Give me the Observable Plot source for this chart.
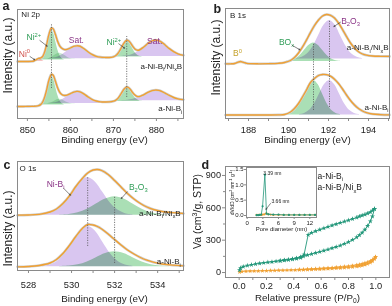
<!DOCTYPE html>
<html><head><meta charset="utf-8">
<script src="https://cdn.jsdelivr.net/npm/d3@7"></script>
<script src="https://cdn.jsdelivr.net/npm/@observablehq/plot@0.6"></script>
<style>
body{margin:0;background:#fff;}
#fig{position:relative;width:392px;height:306px;overflow:hidden;background:#fff;isolation:isolate;}
.p{position:absolute;}
</style></head><body><div id="fig"></div>
<script>
// ---------------- Panel a : Ni 2p ----------------
const aX = [847.7,849,850,851,851.5,852,852.6,853,853.5,854,854.5,855,855.6,856,856.5,857,857.5,858,858.5,859,859.5,860,860.5,861,861.5,862,862.5,863,864,865,866,867,868,869,870,870.5,871,871.5,872,872.5,873.1,873.5,874,874.5,875,875.5,876,877,878,879,879.8,880.5,881,882,883,884,885,886.3];
const aUpper = [57.0,57.0,57.0,57.1,57.5,58.7,60.1,60.4,61.7,66.3,74.4,83.9,90.5,89.6,84.2,77.5,72.7,70.2,69.1,68.9,69.6,70.5,71.6,72.3,72.7,72.5,71.7,70.3,67.0,64.1,62.2,61.35,61.05,61.0,61.7,62.7,64.8,68.0,72.0,75.7,78.3,77.8,75.4,72.2,69.6,68.4,68.5,71.3,75.0,77.7,78.5,77.9,76.9,73.6,69.9,66.8,64.6,63.2];
const aLower = [12.0,12.0,12.1,12.2,12.2,12.3,12.8,13.6,16.0,21.1,29.0,38.2,44.2,43.2,37.5,31.0,26.3,24.0,23.1,23.2,23.9,24.9,25.9,26.7,27.1,26.9,26.1,24.9,21.9,19.2,17.5,16.7,16.5,16.6,17.3,18.2,19.9,22.8,26.3,29.5,31.6,31.0,28.8,25.8,23.4,22.1,21.9,23.7,26.1,27.9,28.45,28.1,27.5,25.4,23.05,21.0,19.65,18.8];
const aU_Ni0 = [[851.4,57.6],[851.7,58.1],[852.0,58.8],[852.3,59.5],[852.6,59.8],[852.9,59.5],[853.2,58.8],[853.5,58.1],[853.8,57.6]];
const aU_Ni2a = [[852.6,58.8],[853.1,59.8],[853.6,62.6],[854.1,68.2],[854.6,76.7],[855.1,85.0],[855.6,88.5],[856.1,85.0],[856.6,76.7],[857.1,68.2],[857.6,62.6],[858.1,59.8],[858.6,58.8]];
const aU_Sh = [[853.9,59.4],[854.5,59.6],[855.1,60.1],[855.7,61.3],[856.3,62.9],[856.9,64.6],[857.5,65.3],[858.1,64.6],[858.7,62.9],[859.3,61.3],[859.9,60.1],[860.5,59.6],[861.1,59.4]];
const aU_Sat1 = [[854.9,59.9],[856.0,60.4],[857.1,61.5],[858.2,63.9],[859.3,67.4],[860.4,70.8],[861.5,72.3],[862.6,70.8],[863.7,67.4],[864.8,63.9],[865.9,61.5],[867.0,60.4],[868.1,59.9]];
const aU_Ni2b = [[869.5,61.7],[870.1,62.2],[870.7,63.7],[871.3,66.7],[871.9,71.2],[872.5,75.6],[873.1,77.5],[873.7,75.6],[874.3,71.2],[874.9,66.7],[875.5,63.7],[876.1,62.2],[876.7,61.7]];
const aU_Sat2 = [[872.0,62.2],[873.3,62.7],[874.6,64.2],[875.9,67.4],[877.2,72.0],[878.5,76.6],[879.8,78.5],[881.1,76.6],[882.4,72.0],[883.7,67.4],[885.0,64.2],[886.3,62.7]];
const aL_Ni2a = [[852.6,13.8],[853.1,14.8],[853.6,17.4],[854.1,22.9],[854.6,31.1],[855.1,39.1],[855.6,42.5],[856.1,39.1],[856.6,31.1],[857.1,22.9],[857.6,17.4],[858.1,14.8],[858.6,13.8]];
const aL_Sh = [[853.9,14.4],[854.5,14.5],[855.1,15.0],[855.7,15.9],[856.3,17.3],[856.9,18.7],[857.5,19.3],[858.1,18.7],[858.7,17.3],[859.3,15.9],[859.9,15.0],[860.5,14.5],[861.1,14.4]];
const aL_Sat1 = [[854.9,15.1],[856.0,15.5],[857.1,16.6],[858.2,18.9],[859.3,22.3],[860.4,25.6],[861.5,27.0],[862.6,25.6],[863.7,22.3],[864.8,18.9],[865.9,16.6],[867.0,15.5],[868.1,15.1]];
const aL_Ni2b = [[869.5,17.2],[870.1,17.6],[870.7,18.9],[871.3,21.6],[871.9,25.5],[872.5,29.4],[873.1,31.0],[873.7,29.4],[874.3,25.5],[874.9,21.6],[875.5,18.9],[876.1,17.6],[876.7,17.2]];
const aL_Sat2 = [[872.0,17.9],[873.3,18.3],[874.6,19.2],[875.9,21.2],[877.2,24.2],[878.5,27.1],[879.8,28.3],[881.1,27.1],[882.4,24.2],[883.7,21.2],[885.0,19.2],[886.3,18.3]];
const aTicks = [850,860,870,880];
const aMinor = [855,865,875,885];

// ---------------- Panel b : B 1s ----------------
const bX = [186.85,187.1,187.3,187.45,187.6,187.75,187.9,188.1,188.5,189.0,189.5,189.8,190.1,190.3,190.5,190.7,190.9,191.1,191.3,191.5,191.7,191.9,192.1,192.3,192.5,192.7,192.9,193.1,193.3,193.5,193.7,193.9,194.2,194.6,195.05];
const bUpper = [54.7,54.7,55.0,56.2,57.0,56.2,55.2,54.8,54.7,54.8,55.2,56,58,61,65.5,71.5,78.5,86,93,98.5,102.5,104,103.2,100.5,95.5,89,82,75.5,70.5,66.8,64.5,63.3,62.5,62.2,62.1];
const bLower = [3.5,3.5,3.5,3.5,3.5,3.5,3.5,3.5,3.5,3.5,3.6,4.0,6.5,10,15,21.5,28.5,36,40,43,44,43.8,42.3,39.3,35,29.5,23.5,18,13.5,10,7.5,5.8,4.5,3.9,3.6];
const bU_B0 = [[187.25,54.9],[187.4,55.9],[187.55,57.0],[187.7,55.9],[187.85,54.9]];
const bU_BOx = [[189.9,57.2],[190.13,57.8],[190.35,59.5],[190.58,63.0],[190.8,68.2],[191.03,73.3],[191.25,75.5],[191.48,73.3],[191.7,68.2],[191.93,63.0],[192.15,59.5],[192.38,57.8],[192.6,57.2]];
const bU_B2O3 = [[190.4,59.9],[190.68,61.2],[190.95,64.7],[191.23,72.0],[191.5,82.8],[191.78,93.5],[192.05,98.0],[192.33,93.5],[192.6,82.8],[192.88,72.0],[193.15,64.7],[193.43,61.2],[193.7,59.9]];
const bL_BOx = [[189.9,3.9],[190.13,5.0],[190.35,8.2],[190.58,14.7],[190.8,24.4],[191.03,33.9],[191.25,38.0],[191.48,33.9],[191.7,24.4],[191.93,14.7],[192.15,8.2],[192.38,5.0],[192.6,3.9]];
const bL_B2O3 = [[190.55,3.9],[190.8,5.0],[191.05,8.2],[191.3,14.7],[191.55,24.4],[191.8,33.9],[192.05,38.0],[192.3,33.9],[192.55,24.4],[192.8,14.7],[193.05,8.2],[193.3,5.0],[193.55,3.9]];
const bTicks = [188,190,192,194];
const bMinor = [187,189,191,193,195];

// ---------------- Panel c : O 1s ----------------
const cX = [527.49,528.0,528.5,529.0,529.3,529.6,529.9,530.2,530.5,530.75,531.0,531.2,531.4,531.7,532.0,532.3,532.6,532.9,533.2,533.5,533.8,534.2,534.7,535.2];
const cUpper = [55.3,55.5,56.2,58.5,61.5,67,74.5,84,92,97.5,100.5,101,100,96,90,83.5,77,71.5,67,63.5,61,59,57.8,57];
const cLower = [3.7,4.0,5.0,7.5,11,17,25,34,42,46,45.5,44,41.5,36.5,31,25.5,20.5,16.5,13,10.3,8.3,6.5,5.3,4.7];
const cU_NiB = [[528.65,55.7],[529.0,56.8],[529.35,60.4],[529.7,67.5],[530.05,78.2],[530.4,88.6],[530.75,93.0],[531.1,88.6],[531.45,78.2],[531.8,67.5],[532.15,60.4],[532.5,56.8],[532.85,55.7]];
const cU_B2O3 = [[529.45,55.5],[529.88,56.1],[530.3,57.8],[530.73,61.3],[531.15,66.5],[531.58,71.5],[532.0,73.7],[532.43,71.5],[532.85,66.5],[533.28,61.3],[533.7,57.8],[534.13,56.1],[534.55,55.5]];
const cL_NiB = [[528.65,4.2],[529.0,5.5],[529.35,9.2],[529.7,16.9],[530.05,28.3],[530.4,39.5],[530.75,44.3],[531.1,39.5],[531.45,28.3],[531.8,16.9],[532.15,9.2],[532.5,5.5],[532.85,4.2]];
const cL_B2O3 = [[529.45,3.9],[529.88,4.4],[530.3,5.7],[530.73,8.6],[531.15,12.8],[531.58,16.9],[532.0,18.7],[532.43,16.9],[532.85,12.8],[533.28,8.6],[533.7,5.7],[534.13,4.4],[534.55,3.9]];
const cTicks = [528,530,532,534];
const cMinor = [529,531,533,535];

// ---------------- Panel d : N2 isotherms ----------------
const gAdsP = [0.003,0.01,0.03,0.06,0.09,0.12,0.15,0.18,0.21,0.24,0.27,0.30,0.33,0.36,0.39,0.42,0.45,0.47,0.50,0.53,0.56,0.59,0.62,0.65,0.68,0.71,0.74,0.77,0.80,0.83,0.86,0.88,0.90,0.92,0.94,0.96,0.975,0.99];
const gAdsV = [22,42,55,65,72,79,85,90,95,99,104,108,113,118,123,129,137,150,162,172,182,193,203,214,226,238,251,266,283,303,327,347,370,398,432,475,520,590];
const gDesP = [0.99,0.975,0.96,0.94,0.92,0.90,0.88,0.86,0.83,0.80,0.77,0.74,0.71,0.68,0.65,0.62,0.59,0.56,0.53,0.505,0.475,0.45,0.42,0.39,0.36,0.33,0.30];
const gDesV = [590,575,560,548,538,530,520,510,497,485,473,461,449,437,424,411,398,384,368,350,167,145,134,126,120,115,110];
const oAdsP = [0.003,0.02,0.05,0.08,0.11,0.14,0.17,0.20,0.23,0.26,0.29,0.32,0.35,0.38,0.41,0.44,0.47,0.50,0.53,0.56,0.59,0.62,0.65,0.68,0.71,0.74,0.77,0.80,0.83,0.86,0.88,0.90,0.92,0.94,0.96,0.975,0.99,0.998];
const oAdsV = [5,10,12,13,14,15,16,17,18,19,20,21,22,23,24,25,26,27,28,30,31,33,35,37,39,41,44,47,51,56,60,65,72,80,92,105,125,145];
const oDesP = [0.998,0.99,0.975,0.96,0.94,0.92,0.90,0.88,0.86,0.83,0.80,0.77,0.74,0.71,0.68,0.65,0.62,0.59,0.56,0.53,0.50,0.47,0.44];
const oDesV = [145,132,118,106,96,88,81,75,70,64,59,55,51,48,45,42,40,37,35,33,31,29,27];
const dTicks = [0,0.2,0.4,0.6,0.8,1.0];
const dMinor = [0.1,0.3,0.5,0.7,0.9];
const dYTicks = [0,300,600,900];
const dYMinor = [150,450,750];
// inset: pore size distribution
const gPoreX = [1.8,2.1,2.4,2.7,2.95,3.39,3.7,4.1,5.0,6.0,7.0,8.0,9.0,10.0,11.0,12.0,13.0];
const gPoreY = [0.01,0.01,0.02,0.03,0.3,1.33,0.06,0.04,0.03,0.03,0.02,0.02,0.02,0.02,0.02,0.02,0.02];
const oPoreX = [1.8,2.1,2.4,2.7,3.0,3.3,3.66,4.0,4.5,5.0,6.0,7.0,8.0,9.0,10.0,11.0,12.0,13.0];
const oPoreY = [0.02,0.02,0.02,0.02,0.03,0.04,0.07,0.04,0.03,0.02,0.02,0.02,0.02,0.02,0.02,0.02,0.02,0.02];
const insetXTicks = [0,3,6,9,12];
const insetYTicks = [0,0.5,1.0,1.5];

// ---------------- styling ----------------
const FONT = '"Liberation Sans", Arial, Helvetica, sans-serif';
const ORANGE = "#f0a032";
const GFILL = "#aadfb5", PFILL = "#d9c6f0", RFILL = "#f4b0b0", YFILL = "#f3e3a0";
const GTXT = "#2f9d57", PTXT = "#8a3486", RTXT = "#d0504a", YTXT = "#c4a12a";
const TEAL = "#23977a";
const FRAME = "#8a8a8a";

const pairs = (xs, ys) => xs.map((x, i) => ({x, y: ys[i]}));
const peak = (pts, base, fill, op = 1) =>
  Plot.areaY(pts, {x: d => d[0], y1: base, y2: d => d[1], fill, fillOpacity: op, mixBlendMode: "multiply", curve: "catmull-rom"});
const env = (xs, ys) => [
  Plot.lineY(pairs(xs, ys), {x: "x", y: "y", stroke: "#cfcfcf", strokeWidth: 2.6, curve: "catmull-rom"}),
  Plot.lineY(pairs(xs, ys), {x: "x", y: "y", stroke: ORANGE, strokeWidth: 1.35, curve: "catmull-rom"})
];
const dotted = (x, y1, y2) => Plot.ruleX([{x, y1, y2}], {x: "x", y1: "y1", y2: "y2", stroke: "#555", strokeWidth: 0.8, strokeDasharray: "1.2,1.3"});
const lab = (x, y, t, o = {}) => Plot.text([{x, y, t}], {x: "x", y: "y", text: "t", fontSize: 8.5, ...o});
const arr = (x1, y1, x2, y2) => Plot.arrow([{x1, y1, x2, y2}], {x1: "x1", y1: "y1", x2: "x2", y2: "y2", stroke: "#333", strokeWidth: 0.6, headLength: 3});
const ftext = (t, o) => Plot.text([t], {text: d => d, lineAnchor: "middle", ...o});
// rotated axis title placed at a position in data units (no offsets)
const ytitle = (t, x, y, fs = 12) => Plot.text([{x, y, t}], {x: "x", y: "y", text: "t", rotate: -90, textAnchor: "middle", lineAnchor: "middle", fontSize: fs});
const letter = (t, dx, dy) => ftext(t, {frameAnchor: "top-left", textAnchor: "start", dx, dy, fontSize: 12.5, fontWeight: "bold"});
const xAxes = (maj, min, pad, fmt) => [
  Plot.axisX(min, {tickSize: 3, tickFormat: () => "", label: null, stroke: FRAME}),
  Plot.axisX(maj, {tickSize: 3, tickPadding: pad, fontSize: 9.3, label: null, stroke: FRAME, fill: "#222", tickFormat: fmt})
];
// explicit left axis (ticks + labels) for panel d and inset
const yAxisLeft = (maj, min, x0, tick, labelFmt, fs, pad) => [
  Plot.ruleY(min, {y: d => d, x1: x0 - tick * 0.66, x2: x0, stroke: FRAME}),
  Plot.ruleY(maj, {y: d => d, x1: x0 - tick, x2: x0, stroke: FRAME}),
  Plot.text(maj, {y: d => d, x: x0, text: labelFmt, textAnchor: "end", dx: -pad, fontSize: fs, fill: "#222"})
];

function richify(root) {
  root.querySelectorAll("text").forEach(t => {
    const s = t.textContent;
    if (!/[_^]\{/.test(s)) return;
    const fs = parseFloat(getComputedStyle(t).fontSize) || 10;
    while (t.firstChild) t.removeChild(t.firstChild);
    const re = /([_^])\{([^}]*)\}|([^_^]+)/g;
    let m, shift = 0;
    while ((m = re.exec(s))) {
      const ts = document.createElementNS("http://www.w3.org/2000/svg", "tspan");
      if (m[3] !== undefined) {
        ts.textContent = m[3];
        if (shift) { ts.setAttribute("dy", (-shift).toFixed(2)); shift = 0; }
      } else {
        ts.textContent = m[2];
        ts.setAttribute("font-size", (fs * 0.68).toFixed(2));
        const d = m[1] === "_" ? fs * 0.28 : -fs * 0.4;
        ts.setAttribute("dy", (d - shift).toFixed(2));
        shift = d;
      }
      t.appendChild(ts);
    }
  });
}

const fig = document.getElementById("fig");
function place(svg, left, top) {
  const d = document.createElement("div");
  d.className = "p"; d.style.left = left + "px"; d.style.top = top + "px";
  d.appendChild(svg); fig.appendChild(d); richify(svg);
}
const base = (o) => ({width: 196, height: 153, style: {fontFamily: FONT, fontSize: "9px", color: "#222", background: "transparent", overflow: "visible"}, ...o});

// ---- a ----
place(Plot.plot(base({
  marginLeft: 17, marginRight: 13, marginTop: 9, marginBottom: 35,
  x: {domain: [847.7, 886.3]}, y: {domain: [0, 109], axis: null},
  marks: [
    peak(aU_Ni0, 57.3, RFILL), peak(aU_Sat1, 59.8, PFILL), peak(aU_Sat2, 62, PFILL),
    peak(aU_Sh, 59.3, GFILL, 0.6), peak(aU_Ni2a, 58.5, GFILL), peak(aU_Ni2b, 61.5, GFILL),
    peak(aL_Sat1, 15, PFILL), peak(aL_Sat2, 17.8, PFILL),
    peak(aL_Sh, 14.3, GFILL, 0.6), peak(aL_Ni2a, 13.5, GFILL), peak(aL_Ni2b, 17, GFILL),
    ...env(aX, aUpper), ...env(aX, aLower),
    dotted(855.6, 30, 95), dotted(873.1, 21, 82),
    Plot.frame({stroke: FRAME}),
    ...xAxes(aTicks, aMinor, 5),
    ftext("Binding energy (eV)", {frameAnchor: "bottom", dx: 4, dy: 21, fontSize: 9.8}),
    ytitle("Intensity (a.u.)", 845.6, 63),
    letter("a", -15, -4),
    lab(848.6, 104, "Ni 2p", {textAnchor: "start", fontSize: 8}),
    lab(851.5, 81.3, "Ni^{2+}", {fill: GTXT}),
    arr(852.9, 78, 854.6, 72.3),
    lab(849.3, 64.7, "Ni^{0}", {fill: RTXT}),
    arr(850.6, 62, 851.7, 58.7),
    lab(861.4, 78, "Sat.", {fill: PTXT}),
    lab(870.1, 76.3, "Ni^{2+}", {fill: GTXT}),
    arr(871.25, 74.7, 872.6, 70.3),
    lab(879.6, 77.3, "Sat.", {fill: PTXT}),
    lab(886.0, 52, "a-Ni-B_{i}/Ni_{x}B", {textAnchor: "end", fontSize: 8}),
    lab(886.0, 9.7, "a-Ni-B_{i}", {textAnchor: "end", fontSize: 8})
  ]
})), 0, 0);

// ---- b ----
place(Plot.plot(base({
  marginLeft: 29, marginRight: 3, marginTop: 8, marginBottom: 35,
  x: {domain: [186.85, 195.05]}, y: {domain: [0, 110], axis: null},
  marks: [
    peak(bU_B0, 54.7, YFILL),
    peak(bU_BOx, 57, GFILL), peak(bU_B2O3, 59.5, PFILL),
    peak(bL_BOx, 3.5, GFILL), peak(bL_B2O3, 3.5, PFILL),
    ...env(bX, bUpper), ...env(bX, bLower),
    dotted(191.25, 8, 75), dotted(192.05, 11, 98),
    Plot.frame({stroke: FRAME}),
    ...xAxes(bTicks, bMinor, 5),
    ftext("Binding energy (eV)", {frameAnchor: "bottom", dx: 0, dy: 21, fontSize: 9.8}),
    ytitle("Intensity (a.u.)", 186.4, 61),
    letter("b", -12, 0),
    lab(187.07, 103, "B 1s", {textAnchor: "start", fontSize: 8}),
    lab(187.45, 65, "B^{0}", {fill: YTXT}),
    lab(189.9, 76.3, "BO_{x}", {fill: GTXT}),
    arr(190.2, 73, 190.57, 68.7),
    lab(193.1, 97.3, "B_{2}O_{3}", {fill: PTXT}),
    arr(192.6, 96.3, 192.27, 92),
    lab(195.0, 70.7, "a-Ni-B_{i}/Ni_{x}B", {textAnchor: "end", fontSize: 8}),
    lab(195.0, 11.3, "a-Ni-B_{i}", {textAnchor: "end", fontSize: 8})
  ]
})), 196, 0);

// ---- c ----
place(Plot.plot(base({
  marginLeft: 17, marginRight: 13, marginTop: 8, marginBottom: 36,
  x: {domain: [527.49, 535.2]}, y: {domain: [0, 109], axis: null},
  marks: [
    peak(cU_NiB, 55.3, PFILL), peak(cU_B2O3, 55.3, GFILL),
    peak(cL_NiB, 3.7, PFILL), peak(cL_B2O3, 3.7, GFILL),
    ...env(cX, cUpper), ...env(cX, cLower),
    dotted(530.75, 24, 93), dotted(532.0, 7, 74),
    Plot.frame({stroke: FRAME}),
    ...xAxes(cTicks, cMinor, 8),
    ftext("Binding energy (eV)", {frameAnchor: "bottom", dx: 4, dy: 28, fontSize: 9.8}),
    ytitle("Intensity (a.u.)", 527.07, 42),
    letter("c", -14, 3),
    lab(527.58, 102, "O 1s", {textAnchor: "start", fontSize: 8}),
    lab(529.26, 86.3, "Ni-B_{i}", {fill: PTXT}),
    arr(529.64, 82, 529.95, 75.3),
    lab(533.1, 83.7, "B_{2}O_{3}", {fill: GTXT}),
    arr(532.59, 78.7, 532.31, 72),
    lab(535.07, 57, "a-Ni-B_{i}/Ni_{x}B", {textAnchor: "end", fontSize: 8}),
    lab(535.07, 8.7, "a-Ni-B_{i}", {textAnchor: "end", fontSize: 8})
  ]
})), 0, 153);

// ---- d ----
const gAds = pairs(gAdsP, gAdsV), gDes = pairs(gDesP, gDesV);
const oAds = pairs(oAdsP, oAdsV), oDes = pairs(oDesP, oDesV);
place(Plot.plot(base({
  marginLeft: 29, marginRight: 3, marginTop: 13, marginBottom: 29,
  x: {domain: [-0.1, 1.1]}, y: {domain: [-46, 983], axis: null},
  marks: [
    Plot.frame({stroke: FRAME}),
    Plot.line(oDes, {x: "x", y: "y", stroke: ORANGE, strokeWidth: 0.9}),
    Plot.line(oAds, {x: "x", y: "y", stroke: ORANGE, strokeWidth: 0.9}),
    Plot.dot(oDes, {x: "x", y: "y", fill: ORANGE, r: 1.5, symbol: "star"}),
    Plot.dot(oAds, {x: "x", y: "y", fill: ORANGE, r: 1.5, symbol: "star"}),
    Plot.line(gDes, {x: "x", y: "y", stroke: TEAL, strokeWidth: 0.9}),
    Plot.line(gAds, {x: "x", y: "y", stroke: TEAL, strokeWidth: 0.9}),
    Plot.dot(gDes, {x: "x", y: "y", fill: TEAL, r: 1.6, symbol: "star"}),
    Plot.dot(gAds, {x: "x", y: "y", fill: TEAL, r: 1.6, symbol: "star"}),
    ...yAxisLeft(dYTicks, dYMinor, -0.1, 0.022, d => String(d), 9.1, 4.5),
    ...xAxes(dTicks, dMinor, 2, d3.format(".1f")),
    ftext("Relative pressure (P/P_{0})", {frameAnchor: "bottom", dx: 0, dy: 20, fontSize: 9.8}),
    ytitle("Va (cm^{3}/g, STP)", -0.305, 566, 10.5),
    letter("d", -24, -2),
    // legend
    Plot.ruleY([893], {x1: 0.463, x2: 0.544, stroke: TEAL, strokeWidth: 1}),
    Plot.dot([893], {x: 0.504, y: d => d, fill: TEAL, r: 1.8, symbol: "star"}),
    lab(0.574, 893, "a-Ni-B_{i}", {textAnchor: "start", fontSize: 8.5}),
    Plot.ruleY([786], {x1: 0.463, x2: 0.544, stroke: ORANGE, strokeWidth: 1}),
    Plot.dot([786], {x: 0.504, y: d => d, fill: ORANGE, r: 1.8, symbol: "star"}),
    lab(0.574, 786, "a-Ni-B_{i}/Ni_{x}B", {textAnchor: "start", fontSize: 8.5})
  ]
})), 196, 153);

// ---- inset ----
place(Plot.plot({
  width: 100, height: 72, marginLeft: 26, marginRight: 4, marginTop: 7, marginBottom: 15,
  style: {fontFamily: FONT, fontSize: "6px", color: "#222", background: "transparent", overflow: "visible"},
  x: {domain: [-0.13, 13.28]}, y: {domain: [-0.065, 1.565], axis: null},
  marks: [
    Plot.frame({stroke: FRAME, fill: "white"}),
    Plot.line(pairs(oPoreX, oPoreY), {x: "x", y: "y", stroke: ORANGE, strokeWidth: 0.8}),
    Plot.dot(pairs(oPoreX, oPoreY), {x: "x", y: "y", fill: ORANGE, r: 1.1}),
    Plot.line(pairs(gPoreX, gPoreY), {x: "x", y: "y", stroke: TEAL, strokeWidth: 0.8}),
    Plot.dot(pairs(gPoreX, gPoreY), {x: "x", y: "y", fill: TEAL, r: 1.1}),
    Plot.axisX(insetXTicks, {tickSize: 2, tickPadding: 1.5, fontSize: 6, label: null, stroke: FRAME, fill: "#222"}),
    ...yAxisLeft(insetYTicks, [], -0.13, 0.38, d3.format(".1f"), 6, 3),
    ftext("Pore diameter (nm)", {frameAnchor: "bottom", dy: 11.5, fontSize: 6}),
    ytitle("dV/dD (cm^{3} nm^{-1} g^{-1})", -2.75, 0.75, 5),
    lab(3.1, 1.37, "3.39 nm", {textAnchor: "start", fontSize: 5}),
    lab(4.65, 0.46, "3.66 nm", {textAnchor: "start", fontSize: 5}),
    arr(4.46, 0.39, 3.6, 0.2)
  ]
}), 220, 160);
</script></body></html>
